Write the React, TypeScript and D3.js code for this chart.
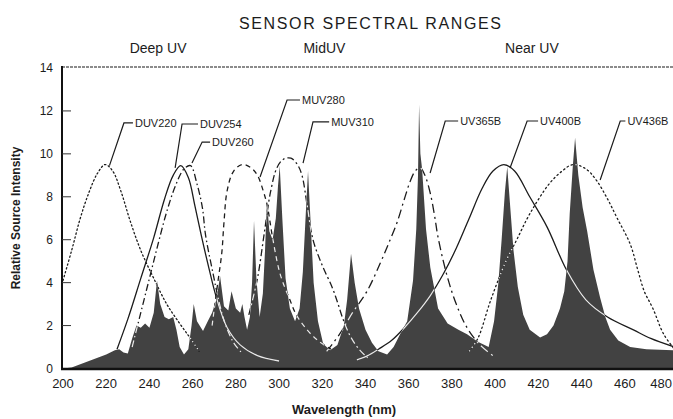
import * as d3 from 'd3';

type Pt = [number, number];

const xTicks = [200, 220, 240, 260, 280, 300, 320, 340, 360, 380, 400, 420, 440, 460, 480];
const yTicks = [0, 2, 4, 6, 8, 10, 12, 14];

const regionNames = ['Deep UV', 'MidUV', 'Near UV'];
const regionCentersNm = [244, 321, 417];

// lamp source spectrum (filled)
const lampSpectrum: Pt[] = [
  [200, 0], [204, 0.05], [208, 0.2], [212, 0.35], [216, 0.5], [220, 0.65], [224, 0.85], [226, 0.9],
  [228, 0.75], [230, 0.7], [232, 1.4], [234, 2.0], [236, 1.9], [238, 2.1], [240, 1.9], [242, 2.6],
  [243.5, 4.1], [245, 3.0], [247, 2.4], [249, 2.3], [251, 2.4], [252.5, 1.8], [254, 1.0], [256, 0.65],
  [258, 0.9], [259.5, 2.0], [260.5, 3.0], [262, 2.2], [264.8, 1.75], [267, 2.2], [269, 2.6], [271, 3.2],
  [272.7, 4.3], [274.5, 2.9], [276.5, 2.7], [278, 3.6], [280, 2.8], [282, 2.6], [283, 3.0], [284, 2.4],
  [285.2, 1.8], [286.5, 2.4], [287.5, 4.0], [288.4, 6.9], [289.5, 4.2], [291, 2.4], [292.5, 3.5],
  [293.5, 5.5], [294.4, 7.8], [295.5, 6.4], [297, 6.0], [298.5, 7.0], [299.5, 8.5], [300.3, 9.45],
  [301.5, 7.0], [303, 4.2], [305, 2.8], [307.4, 2.2], [309.5, 2.8], [311, 4.5], [312.5, 7.5],
  [313.4, 9.2], [314.5, 7.0], [316, 4.0], [318, 2.2], [320.4, 1.15], [323.6, 0.85], [327, 1.1],
  [330, 2.0], [331.5, 3.2], [333.3, 5.35], [335, 4.0], [337, 2.8], [340, 1.8], [343, 1.2], [346, 0.8],
  [350, 0.65], [353, 1.0], [356, 1.6], [359.3, 2.2], [362, 4.1], [363.5, 6.5], [364.3, 9.0],
  [364.8, 12.3], [365.4, 10.0], [366.2, 9.3], [368, 6.5], [370, 4.7], [373.6, 2.8], [378, 2.1],
  [383, 1.8], [387, 1.6], [392, 1.25], [397, 1.0], [399.5, 2.2], [401.5, 4.0], [403, 6.0], [404.5, 8.2],
  [405.6, 9.4], [407, 7.5], [408.5, 5.5], [410.5, 3.8], [413, 2.5], [416, 1.8], [420.8, 1.45],
  [424, 1.6], [427, 2.0], [430, 2.8], [432, 3.6], [433.5, 5.0], [434.5, 7.2], [436, 9.5], [437, 10.75],
  [438.5, 9.0], [440.5, 7.5], [442.6, 6.4], [445.5, 4.6], [448.6, 3.3], [451, 2.4], [453.2, 1.8],
  [457, 1.3], [462.5, 1.0], [470, 0.9], [483, 0.85],
];

// sensor response curves
const duv220: Pt[] = [
  [200, 4.1], [204, 5.5], [208, 7.0], [212, 8.2], [216, 9.1], [219.5, 9.5], [223, 9.2], [227, 8.2],
  [231, 6.9], [236, 5.5], [242, 4.2], [248, 3.0], [254, 2.1], [259, 1.4], [263, 0.8],
];
const duv254: Pt[] = [
  [225, 0.9], [230, 2.3], [236, 4.2], [242, 6.1], [247, 7.9], [251, 9.0], [254.5, 9.45], [258, 8.9],
  [261, 7.6], [264, 6.2], [267, 4.9], [271, 3.3], [276, 1.9], [282, 1.1], [290, 0.6], [300, 0.35],
];
const duv260: Pt[] = [
  [232, 1.0], [236, 2.6], [240, 4.2], [244, 5.8], [248, 7.3], [252, 8.5], [256, 9.3], [259, 9.45],
  [262, 8.6], [264.5, 7.5], [266, 6.2], [269.5, 4.4], [272, 3.2], [275, 2.1], [279, 1.2], [283, 0.7],
];
const muv280: Pt[] = [
  [269, 2.0], [271.5, 3.9], [273.5, 5.4], [274.5, 6.8], [276, 8.3], [279, 9.2], [283, 9.5], [287, 9.35],
  [290, 9.0], [292.6, 8.3], [294.5, 7.6], [297, 6.1], [300.5, 4.4], [305, 3.2], [308, 2.5], [313, 1.8],
  [318, 1.3], [324, 0.9],
];
const muv310: Pt[] = [
  [286, 2.5], [290, 4.2], [293, 6.2], [296, 8.2], [299, 9.35], [302, 9.75], [305.5, 9.8], [308.5, 9.5],
  [310.6, 9.0], [313, 7.6], [315.7, 6.0], [320, 4.8], [324.5, 3.8], [327, 3.1], [329.6, 2.3], [333, 1.5],
  [337, 0.9], [341, 0.5],
];
const uv365b: Pt[] = [
  [322, 0.8], [328, 1.6], [334, 2.6], [340.7, 3.6], [346.8, 4.9], [351, 5.9], [354.6, 6.8], [358, 7.9],
  [360.6, 8.7], [363, 9.2], [365.3, 9.35], [367.5, 9.0], [369.9, 8.2], [372, 7.1], [373.6, 6.1],
  [377.8, 4.3], [382, 3.0], [387, 1.9], [393, 1.1], [399, 0.6],
];
const uv400b: Pt[] = [
  [336, 0.4], [341, 0.6], [346, 0.9], [352, 1.3], [358, 1.9], [364, 2.6], [370, 3.4], [376, 4.4],
  [382, 5.6], [388, 7.0], [394, 8.4], [399, 9.2], [404, 9.5], [409, 9.2], [416, 8.0], [424, 6.6],
  [433, 4.6], [442, 3.2], [452, 2.4], [464, 1.8], [472, 1.4], [483, 1.0],
];
const uv436b: Pt[] = [
  [388, 0.8], [392, 1.4], [398, 3.2], [405, 5.0], [410, 6.0], [416, 7.2], [425, 8.6], [431, 9.2],
  [436, 9.5], [442, 9.3], [447, 8.75], [452, 7.9], [456.5, 7.0], [462.5, 5.8], [466, 4.6], [469, 3.6],
  [473, 2.8], [478, 1.6], [483, 0.9],
];

const sensorNames = ['DUV220', 'DUV254', 'DUV260', 'MUV280', 'MUV310', 'UV365B', 'UV400B', 'UV436B'];
const sensorCurves = [duv220, duv254, duv260, muv280, muv310, uv365b, uv400b, uv436b];
const sensorDash = ['1.4,2.6', '', '7,3,1.5,3', '5,4', '7,3,2,3', '9,4,2,4', '', '1.4,3'];

// label leader lines: text start, elbow, tip (in nm / intensity units)
const labelTextNm = [233.3, 263.4, 269, 310.6, 324.1, 383.8, 420.8, 461.2];
const labelVal = [11.44, 11.39, 10.55, 12.51, 11.49, 11.53, 11.53, 11.53];
const labelElbowNm = [228.2, 255.1, 264.4, 303.7, 315.7, 376.9, 414.8, 457.9];
const labelTipNm = [221.5, 251.9, 259.7, 291.2, 311.1, 369.9, 406.9, 448.6];
const labelTipVal = [9.45, 9.35, 9.57, 8.92, 9.57, 9.11, 9.34, 8.78];

const W = 673;
const H = 419;
const left = 62;
const top = 67;
const bottom = 368.5;

export default function App() {
  const x = d3.scaleLinear().domain([200, 480]).range([63, 668]);
  const y = d3.scaleLinear().domain([0, 14]).range([bottom, 68]);

  const area = d3
    .area<Pt>()
    .x(d => x(d[0]))
    .y0(y(0))
    .y1(d => y(d[1]))
    .curve(d3.curveLinear);
  const line = d3
    .line<Pt>()
    .x(d => x(d[0]))
    .y(d => y(d[1]))
    .curve(d3.curveCatmullRom.alpha(0.5));

  const font = 'Liberation Sans, Arial, Helvetica, sans-serif';
  const ink = '#1c1c1c';

  return (
    <svg width={W} height={H} style={{ display: 'block', position: 'absolute', left: 0, top: 0, background: '#fff' }} fontFamily={font}>
      <defs>
        <clipPath id="plotClip">
          <rect x={left} y={top} width={W - left} height={bottom - top + 1} />
        </clipPath>
        <clipPath id="specClip">
          <path d={area(lampSpectrum) ?? ''} />
        </clipPath>
      </defs>

      <text x={370} y={29} textAnchor="middle" fontSize={16} fill={ink} textLength={262} lengthAdjust="spacing">
        SENSOR SPECTRAL RANGES
      </text>
      {regionNames.map((r, i) => (
        <text key={r} x={x(regionCentersNm[i])} y={53} textAnchor="middle" fontSize={14} fill={ink}>
          {r}
        </text>
      ))}

      <g clipPath="url(#plotClip)">
        <path d={area(lampSpectrum) ?? ''} fill="#424242" />
        {sensorCurves.map((c, i) => (
          <path key={'k' + i} d={line(c) ?? ''} fill="none" stroke={ink} strokeWidth={1.3}
            strokeDasharray={sensorDash[i] || undefined} strokeLinecap={sensorDash[i].startsWith('1.4') ? 'round' : 'butt'} />
        ))}
        <g clipPath="url(#specClip)">
          {sensorCurves.map((c, i) => (
            <path key={'w' + i} d={line(c) ?? ''} fill="none" stroke="#e8e8e8" strokeWidth={1.3}
              strokeDasharray={sensorDash[i] || undefined} />
          ))}
        </g>
      </g>

      {/* frame */}
      <line x1={left} x2={W + 5} y1={top} y2={top} stroke="#666" strokeWidth={1.3} strokeDasharray="3,1" />
      <line x1={left} x2={left} y1={top - 1} y2={bottom + 1} stroke="#111" strokeWidth={2} />
      <line x1={left - 1} x2={W + 5} y1={bottom + 0.5} y2={bottom + 0.5} stroke="#111" strokeWidth={2.5} />

      {yTicks.map(t => (
        <g key={t}>
          {t > 0 && t < 14 && <line x1={left} x2={left + 9} y1={y(t)} y2={y(t)} stroke="#333" strokeWidth={1} />}
          <text x={53} y={y(t)} dy="0.36em" textAnchor="end" fontSize={12} fill={ink}>
            {t}
          </text>
        </g>
      ))}
      {xTicks.map(t => {
        const last = x(t) + 12 > W;
        return (
          <text key={t} x={last ? W - 1 : x(t)} y={388} textAnchor={last ? 'end' : 'middle'} fontSize={13} fill={ink}>
            {t}
          </text>
        );
      })}

      {sensorNames.map((n, i) => {
        const ty = y(labelVal[i]);
        return (
          <g key={n}>
            <polyline
              points={`${x(labelTipNm[i])},${y(labelTipVal[i])} ${x(labelElbowNm[i])},${ty} ${x(labelTextNm[i]) - 2},${ty}`}
              fill="none" stroke={ink} strokeWidth={1.2} />
            <text x={x(labelTextNm[i])} y={ty} dy="0.36em" fontSize={11} fill={ink}>
              {n}
            </text>
          </g>
        );
      })}

      <text transform={`translate(20,218) rotate(-90)`} textAnchor="middle" fontSize={12} fontWeight="bold" fill={ink}>
        Relative Source Intensity
      </text>
      <text x={344} y={414} textAnchor="middle" fontSize={13} fontWeight="bold" fill={ink}>
        Wavelength (nm)
      </text>
    </svg>
  );
}
